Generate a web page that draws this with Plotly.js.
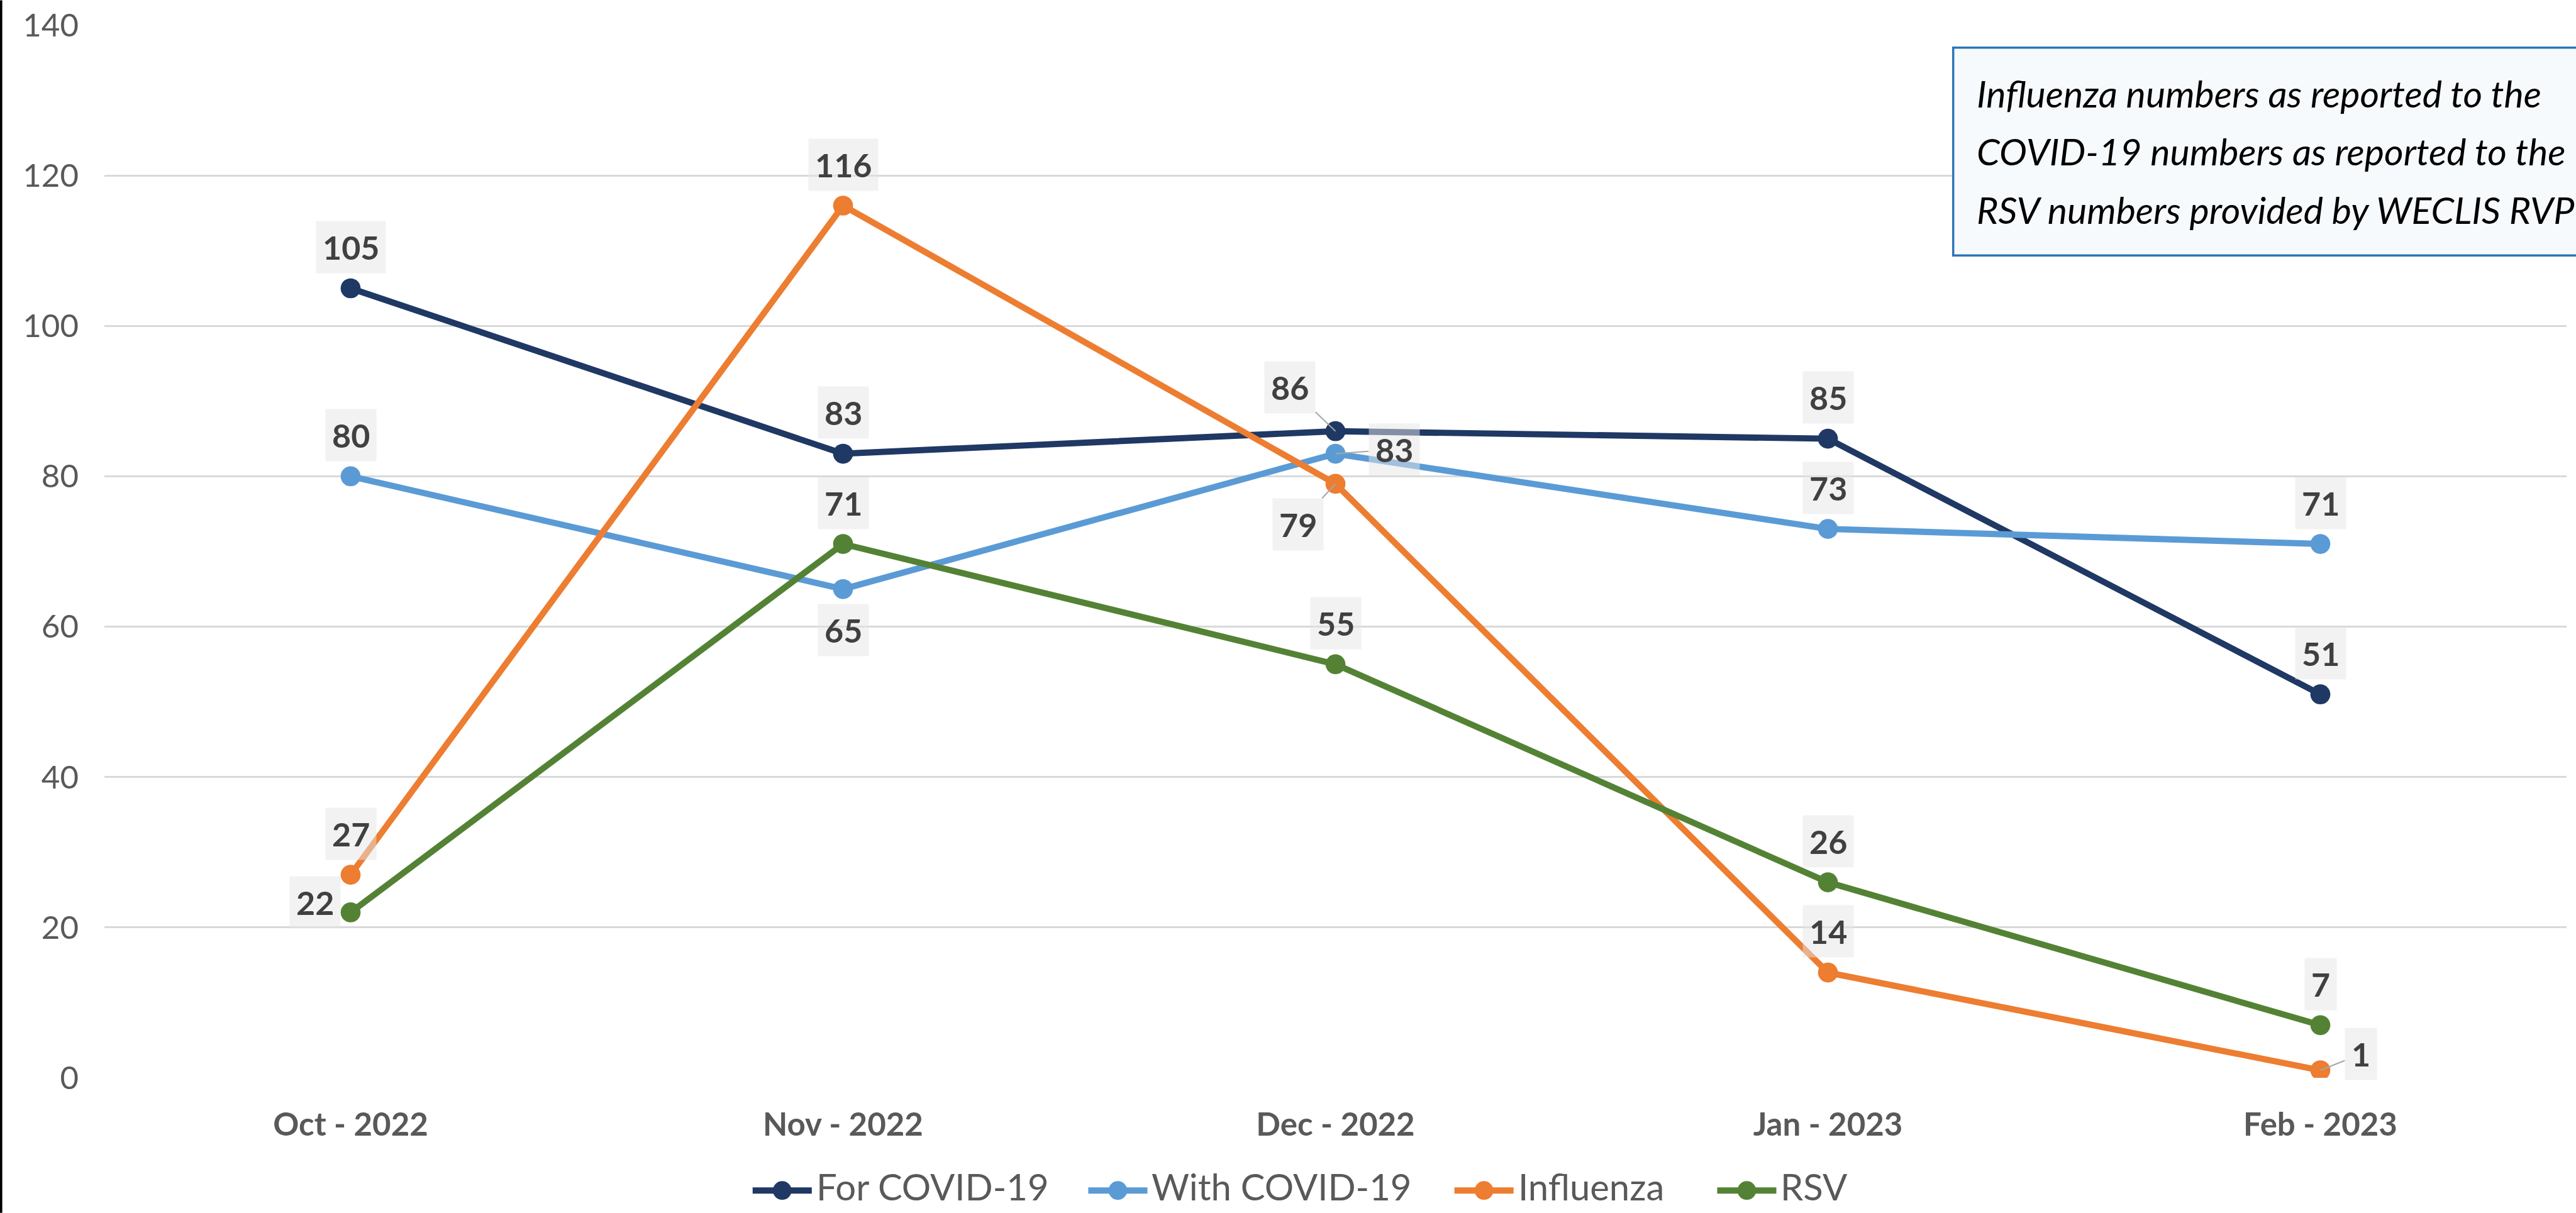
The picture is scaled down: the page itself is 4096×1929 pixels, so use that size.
<!DOCTYPE html>
<html><head><meta charset="utf-8">
<script src="https://cdn.plot.ly/plotly-3.0.1.min.js"></script>
<style>html,body{margin:0;padding:0;background:#fff;overflow:hidden}</style>
</head><body><div id="chart" style="width:4096px;height:1929px"></div>
<script>
// ---- data ----
const months = ['Oct - 2022', 'Nov - 2022', 'Dec - 2022', 'Jan - 2023', 'Feb - 2023'];
const forCovid = [105, 83, 86, 85, 51];
const withCovid = [80, 65, 83, 73, 71];
const influenza = [27, 116, 79, 14, 1];
const rsv = [22, 71, 55, 26, 7];
const seriesNames = ['For COVID-19', 'With COVID-19', 'Influenza', 'RSV'];
const yTicks = [0, 20, 40, 60, 80, 100, 120, 140];
const noteLines = [
  'Influenza numbers as reported to the',
  'COVID-19 numbers as reported to the',
  'RSV numbers provided by WECLIS RVP'
];

// ---- styles / geometry (reference px, scaled by S) ----
const W = 4096, H = 1929, S = W / 4137;
const L = 168 * S, R = 4122 * S, T = 40 * S, B = 1731 * S;
const plotW = R - L, plotH = B - T;
const px = v => (v * S - L) / plotW;   // reference x -> paper
const py = v => (B - v * S) / plotH;   // reference y -> paper
const colors = ['#1f3864', '#5b9bd5', '#ed7d31', '#548235'];
const FONT = 'Lato, "Open Sans", sans-serif';

const A = [0, -66], Bw = [0, 66];
const labelOffsets = [
  [A, A, [-73, -70], A, A],
  [A, Bw, [94, -7], A, A],
  [A, A, [-60, 65], A, [65, -26]],
  [[-57, -16], A, A, A, A]
];
const leaders = [
  [0, 0, 1, 0, 0],
  [0, 0, 1, 0, 0],
  [0, 0, 1, 0, 1],
  [0, 0, 0, 0, 0]
];

const allSeries = [forCovid, withCovid, influenza, rsv];
const traces = allSeries.map((vals, k) => ({
  type: 'scatter', mode: 'lines+markers', name: seriesNames[k],
  x: months, y: vals, showlegend: false,
  line: {color: colors[k], width: 10 * S},
  marker: {color: colors[k], size: 32 * S},
  hoverinfo: 'skip'
}));

const annotations = [];
allSeries.forEach((vals, k) => {
  vals.forEach((v, i) => {
    const off = labelOffsets[k][i];
    annotations.push({
      xref: 'x', yref: 'y', x: months[i], y: v, text: String(v),
      showarrow: true, arrowhead: 0, arrowwidth: 2,
      arrowcolor: leaders[k][i] ? '#a6a6a6' : 'rgba(0,0,0,0)',
      ax: off[0] * S, ay: off[1] * S, standoff: 0,
      bgcolor: 'rgba(229,229,229,0.5)', borderpad: 10,
      font: {family: FONT, size: 52, color: '#404040', weight: 700}
    });
  });
});
const noteY = [150, 243, 336];
noteLines.forEach((t, j) => {
  annotations.push({
    xref: 'paper', yref: 'paper', x: px(3173), y: py(noteY[j]),
    xanchor: 'left', yanchor: 'middle', text: t, showarrow: false,
    font: {family: FONT, size: 59, color: '#000000', style: 'italic'}
  });
});

const shapes = [
  {type: 'rect', xref: 'paper', yref: 'paper', x0: px(0), x1: px(4), y0: py(1948), y1: py(0),
   fillcolor: '#000000', line: {width: 0}, layer: 'above'},
  {type: 'rect', xref: 'paper', yref: 'paper', x0: px(3137), x1: px(4400), y0: py(410), y1: py(76),
   fillcolor: '#f7fafd', line: {color: '#2e75b6', width: 3.5}, layer: 'above'}
];

// ---- legend (line sample + marker + text per series) ----
const legendSampleX = [1209, 1748, 2336, 2758];
const legendSampleLen = 95, legendTextGap = 100;
const legendMarkY = 1912, legendTextY = 1905;
seriesNames.forEach((name, k) => {
  const x0 = legendSampleX[k];
  shapes.push({type: 'line', xref: 'paper', yref: 'paper',
    x0: px(x0), x1: px(x0 + legendSampleLen), y0: py(legendMarkY), y1: py(legendMarkY),
    line: {color: colors[k], width: 10 * S}, layer: 'above'});
  shapes.push({type: 'circle', xref: 'paper', yref: 'paper',
    xsizemode: 'pixel', ysizemode: 'pixel',
    xanchor: px(x0 + legendSampleLen / 2), yanchor: py(legendMarkY),
    x0: -15 * S, x1: 15 * S, y0: -15 * S, y1: 15 * S,
    fillcolor: colors[k], line: {width: 0}, layer: 'above'});
  annotations.push({
    xref: 'paper', yref: 'paper', x: px(x0 + legendTextGap), y: py(legendTextY),
    xanchor: 'left', yanchor: 'middle', text: name, showarrow: false,
    font: {family: FONT, size: 58, color: '#595959'}
  });
});

const layout = {
  width: W, height: H,
  margin: {l: L, r: W - R, t: T, b: H - B, pad: 0, autoexpand: false},
  paper_bgcolor: '#ffffff', plot_bgcolor: '#ffffff',
  showlegend: false,
  xaxis: {
    type: 'category', range: [-0.5, 4.5], showgrid: false, zeroline: false, showline: false,
    ticks: '', tickfont: {family: FONT, size: 51, color: '#595959', weight: 700},
    ticklabelstandoff: 40, fixedrange: true
  },
  yaxis: {
    range: [0, 140], tickvals: yTicks, ticktext: yTicks.map(String),
    showgrid: true, gridcolor: '#d9d9d9', gridwidth: 3 * S, zeroline: false, showline: false,
    ticks: '', tickfont: {family: FONT, size: 51, color: '#595959'},
    ticklabelstandoff: 40, fixedrange: true
  },
  annotations: annotations,
  shapes: shapes
};

Plotly.newPlot('chart', traces, layout, {displayModeBar: false, staticPlot: true});
</script>
</body></html>
